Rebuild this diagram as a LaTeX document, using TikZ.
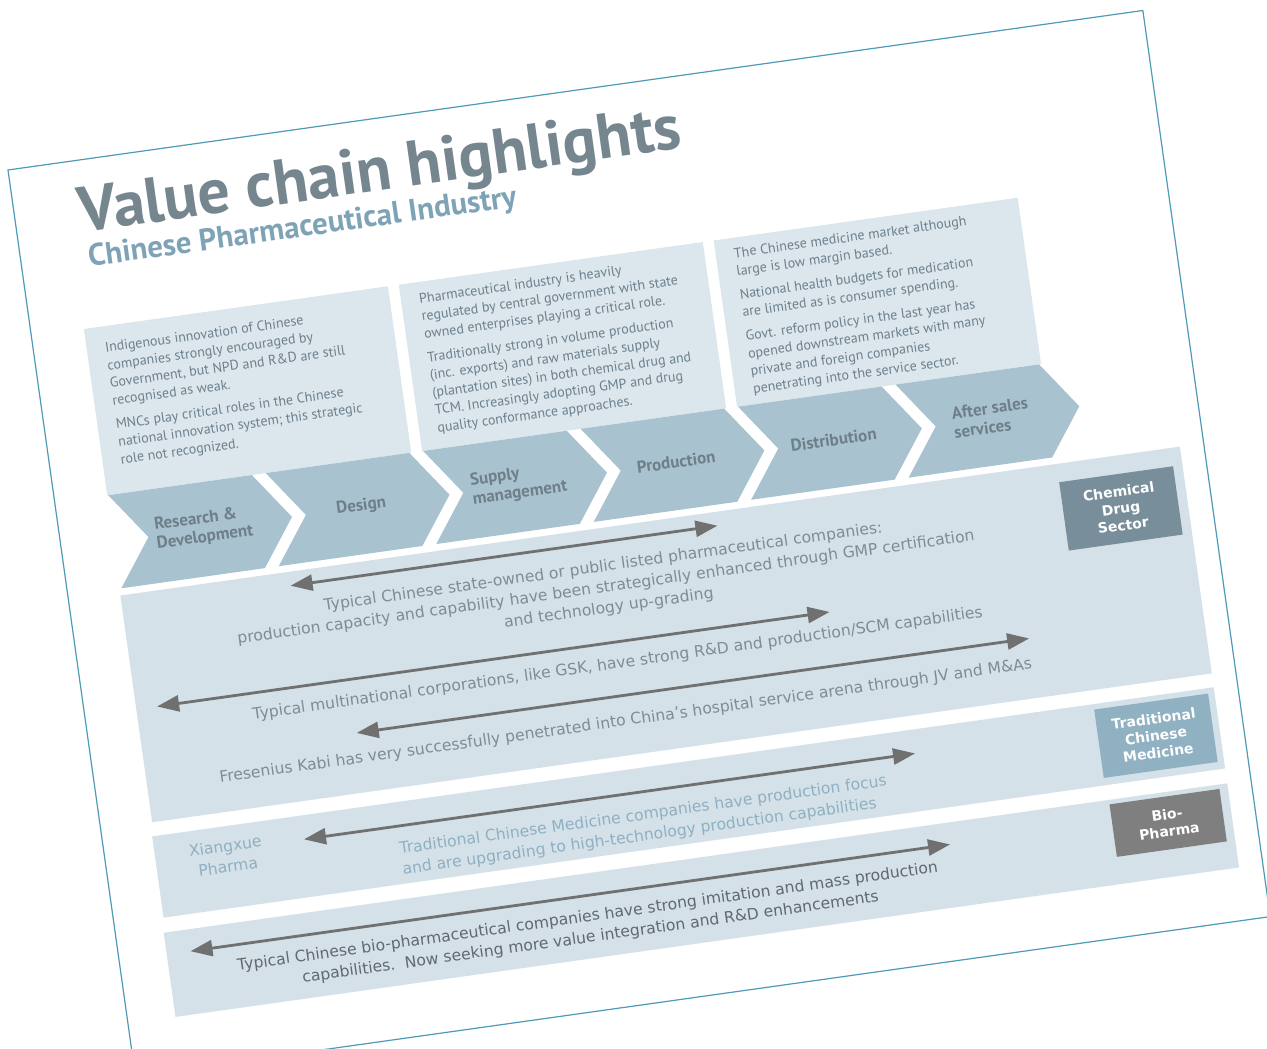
\documentclass[tikz,border=0pt]{standalone}
\usepackage{fontspec}
\setmainfont{PT Sans}
\newfontfamily\dejavu{DejaVu Sans}
\usetikzlibrary{arrows.meta}

\definecolor{framecol}{HTML}{4F9AB4}
\definecolor{titlecol}{HTML}{76868F}
\definecolor{subcol}{HTML}{7EA3B6}
\definecolor{boxfill}{HTML}{DCE7ED}
\definecolor{chevfill}{HTML}{A8C2CF}
\definecolor{chevtext}{HTML}{6E7F89}
\definecolor{notetext}{HTML}{6B7F8C}
\definecolor{bandfill}{HTML}{D4E1E8}
\definecolor{chemcol}{HTML}{788E9A}
\definecolor{tcmcol}{HTML}{8FB1C1}
\definecolor{biocol}{HTML}{7F7F7F}
\definecolor{arrowcol}{HTML}{707070}
\definecolor{chemtext}{HTML}{7B8D98}
\definecolor{tcmtext}{HTML}{8FB0C2}
\definecolor{biotext}{HTML}{5F6A70}

\begin{document}
\begin{tikzpicture}[
        x=0.5pt, y=0.5pt,
        >={Triangle[length=11pt, width=8pt]},
        chevlabel/.style={font=\fontsize{8.5}{9.5}\selectfont\bfseries, text=chevtext, align=left, inner sep=0pt},
        note/.style={font=\fontsize{7}{8.9}\selectfont, text=notetext, align=left, anchor=north west, inner sep=0pt},
        sector/.style={font=\dejavu\bfseries\fontsize{7}{8.5}\selectfont, text=white, align=center, inner sep=0pt},
        span/.style={<->, line width=1.4pt, draw=arrowcol},
        spantext/.style={font=\dejavu\fontsize{7.8}{10.4}\selectfont, inner sep=0pt},
    ]
    \useasboundingbox (0,0) rectangle (1267,-1048);
    \clip (0,0) rectangle (1267,-1048);

    \begin{scope}[shift={(8,-170)}, rotate=8, transform shape]
        % Slide outline
        \draw[framecol, line width=0.6pt] (0,0) rectangle (1146,-915);

        % Heading
        \node[anchor=base west, inner sep=0pt, text=titlecol, font=\fontsize{32}{35}\selectfont\bfseries] (title) at (64,-72) {Value chain highlights};
        \node[anchor=base west, inner sep=0pt, text=subcol, font=\fontsize{15.5}{17}\selectfont\bfseries] (subtitle) at (67,-107) {Chinese Pharmaceutical Industry};

        % Comment panels above the chain
        \foreach \i in {0,1,2}
            \fill[boxfill] ({53+318*\i},-168) rectangle ++(307,-168);

        \node[note] (note-rd) at (71,-184) {Indigenous innovation of Chinese\\companies strongly encouraged by\\Government, but NPD and R\&D are still\\recognised as weak.\\[3pt]MNCs play critical roles in the Chinese\\national innovation system; this strategic\\role not recognized.};
        \node[note] (note-sm) at (389,-179) {Pharmaceutical industry is heavily\\regulated by central government with state\\owned enterprises playing a critical role.\\[3pt]Traditionally strong in volume production\\(inc. exports) and raw materials supply\\(plantation sites) in both chemical drug and\\TCM. Increasingly adopting GMP and drug\\quality conformance approaches.};
        \node[note] (note-ds) at (707,-178) {The Chinese medicine market although\\large is low margin based.\\[3pt]National health budgets for medication\\are limited as is consumer spending.\\[3pt]Govt. reform policy in the last year has\\opened downstream markets with many\\private and foreign companies\\penetrating into the service sector.};

        % The value chain itself
        \foreach \i/\lbl in {0/{Research \&\\Development}, 1/{Design}, 2/{Supply\\management}, 3/{Production}, 4/{Distribution}, 5/{After sales\\services}} {
            \fill[chevfill] ({54+159*\i},-336) -- ++(145,0) -- ++(34,-47) -- ++(-34,-47) -- ++(-145,0) -- ++(34,47) -- cycle;
            \node[chevlabel] (stage-\i) at ({54+159*\i+90},-382) {\lbl};
        }

        % Sector bands
        \fill[bandfill] (52,-437) rectangle (1122,-666);
        \fill[bandfill] (50,-680) rectangle (1122,-762);
        \fill[bandfill] (48,-777) rectangle (1122,-862);

        \node[sector, fill=chemcol, minimum width=57.5pt, minimum height=34.5pt] (chem) at (1055,-490) {Chemical\\Drug\\Sector};
        \node[sector, fill=tcmcol, minimum width=57.5pt, minimum height=34.5pt] (tcm) at (1058,-720) {Traditional\\Chinese\\Medicine};
        \node[sector, fill=biocol, minimum width=55.5pt, minimum height=26.5pt] (bio) at (1058,-808) {Bio-\\Pharma};

        % Spans along the chain
        \coordinate (soe-l) at (222,-451);
        \coordinate (soe-r) at (653,-451);
        \coordinate (mnc-l) at (73,-552);
        \coordinate (mnc-r) at (752,-552);
        \coordinate (fk-l) at (267,-606);
        \coordinate (fk-r) at (946,-606);
        \coordinate (tcm-l) at (200,-704);
        \coordinate (tcm-r) at (817,-704);
        \coordinate (bp-l) at (72,-799);
        \coordinate (bp-r) at (839,-799);

        \foreach \name in {soe, mnc, fk, tcm, bp}
            \draw[span] (\name-l) -- (\name-r);

        \node[spantext, text=chemtext, align=center] (soe-txt) at (534,-497) {Typical Chinese state-owned or public listed pharmaceutical companies:\\production capacity and capability have been strategically enhanced through GMP certification\\and technology up-grading};
        \node[spantext, text=chemtext] (mnc-txt) at (535,-574) {Typical multinational corporations, like GSK, have strong R\&D and production/SCM capabilities};
        \node[spantext, text=chemtext] (fk-txt) at (535,-632) {Fresenius Kabi has very successfully penetrated into China’s hospital service arena through JV and M\&As};
        \node[spantext, text=tcmtext, align=center] (xiangxue) at (121,-710) {Xiangxue\\Pharma};
        \node[spantext, text=tcmtext, align=left, anchor=west] (tcm-txt) at (293,-738) {Traditional Chinese Medicine companies have production focus\\and are upgrading to high-technology production capabilities};
        \node[spantext, text=biotext, align=center] (bp-txt) at (470,-831) {Typical Chinese bio-pharmaceutical companies have strong imitation and mass production\\capabilities.\ \ Now seeking more value integration and R\&D enhancements};
    \end{scope}
\end{tikzpicture}
\end{document}
